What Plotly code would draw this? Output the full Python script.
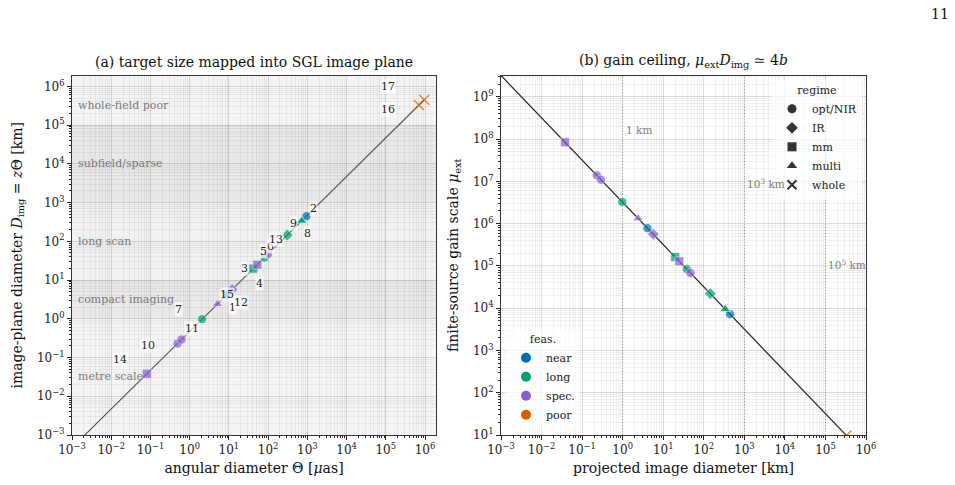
import numpy as np
import plotly.graph_objects as go

# ---------------- data ----------------
target_ids = [str(i) for i in range(1, 18)]
theta_uas = [5.1, 944, 42, 53, 81, 100, 2.08, 725, 715, 0.49, 0.62, 12.1, 308, 0.081, 8.7, 7.0e5, 9.6e5]
regime = ["multi", "opt/NIR", "mm", "mm", "opt/NIR", "opt/NIR", "opt/NIR", "multi", "multi",
          "opt/NIR", "opt/NIR", "IR", "IR", "mm", "opt/NIR", "whole", "whole"]
feas = ["spec.", "near", "long", "spec.", "long", "spec.", "long", "long", "long",
        "spec.", "spec.", "spec.", "long", "spec.", "near", "poor", "poor"]

km_per_uas = 0.47          # z * 1 uas  (z ~ 650 AU)
four_b_km = 3.2e6          # mu_ext * D_img = 4b

regime_names = ["opt/NIR", "IR", "mm", "multi", "whole"]
regime_symbols = ["circle", "diamond", "square", "triangle-up", "x-thin"]
feas_names = ["near", "long", "spec.", "poor"]
feas_colors = ["#0072B2", "#009E73", "#8A5CD2", "#D55E00"]

band_edges_km = [1e-3, 1.0, 10.0, 1e3, 1e5, 10 ** 6.28]
band_names = ["metre scale", "compact imaging", "long scan", "subfield/sparse", "whole-field poor"]
band_label_logy = [-1.5, 0.5, 2.0, 4.0, 5.5]
band_fills = ["#f4f4f4", "#e9e9e9", "#f1f1f1", "#e8e8e8", "#f4f4f4"]

ref_lines_km = [1.0, 1e3, 1e5]
ref_labels = ["1 km", "10<sup>3</sup> km", "10<sup>5</sup> km"]
ref_label_mu = [1.6e8, 9e6, 1.1e5]

# label pixel offsets (dx right, dy up) for left panel
label_dx = [15, 7, -9, 2, -1, 2, -24, 6, -8, -30, 10, 9, -11, -27, 0, -31, -36]
label_dy = [-3, 8, 0, -19, 6, 8, 10, -13, -3, -2, 11, -13, -4, 14, 1, -4, 13]

# ---------------- derived ----------------
theta = np.array(theta_uas)
D_img = theta * km_per_uas
mu_ext = four_b_km / D_img
sym_map = dict(zip(regime_names, regime_symbols))
col_map = dict(zip(feas_names, feas_colors))
symbols = [sym_map[r] for r in regime]
colors = [col_map[f] for f in feas]
is_x = [s == "x-thin" for s in symbols]
line_cols = [c if x else "white" for c, x in zip(colors, is_x)]
line_w = [1.5 if x else 0.6 for x in is_x]
sizes = [10 if x else 9 for x in is_x]

FONT = "DejaVu Serif"
fig = go.Figure()

# left: mapping line
th_line = np.logspace(-3, np.log10(theta.max()), 200)
fig.add_trace(go.Scatter(x=th_line, y=th_line * km_per_uas, mode="lines",
                         line=dict(color="#555555", width=1.1), showlegend=False,
                         hoverinfo="skip", xaxis="x", yaxis="y"))
fig.add_trace(go.Scatter(x=theta, y=D_img, mode="markers", showlegend=False,
                         marker=dict(symbol=symbols, color=colors, size=sizes,
                                     line=dict(color=line_cols, width=line_w)),
                         xaxis="x", yaxis="y"))

# right: gain ceiling line
D_line = np.logspace(-3, 6, 200)
fig.add_trace(go.Scatter(x=D_line, y=four_b_km / D_line, mode="lines",
                         line=dict(color="#222222", width=1.2), showlegend=False,
                         hoverinfo="skip", xaxis="x2", yaxis="y2"))
fig.add_trace(go.Scatter(x=D_img, y=mu_ext, mode="markers", showlegend=False,
                         marker=dict(symbol=symbols, color=colors, size=sizes,
                                     line=dict(color=line_cols, width=line_w)),
                         xaxis="x2", yaxis="y2"))

# legend entries
for name, sym in zip(regime_names, regime_symbols):
    xs = sym == "x-thin"
    fig.add_trace(go.Scatter(x=[None], y=[None], mode="markers", name=name, legend="legend",
                             marker=dict(symbol=sym, size=9, color="#333333",
                                         line=dict(color="#333333", width=2 if xs else 0)),
                             xaxis="x2", yaxis="y2"))
for name, col in zip(feas_names, feas_colors):
    fig.add_trace(go.Scatter(x=[None], y=[None], mode="markers", name=name, legend="legend2",
                             marker=dict(symbol="circle", size=10, color=col),
                             xaxis="x2", yaxis="y2"))

shapes = []
annotations = []
for i, name in enumerate(band_names):
    shapes.append(dict(type="rect", xref="x domain", yref="y", x0=0, x1=1,
                       y0=band_edges_km[i], y1=band_edges_km[i + 1],
                       fillcolor=band_fills[i], line=dict(width=0), layer="below"))
    annotations.append(dict(xref="x domain", yref="y", x=0.012, y=band_label_logy[i],
                            text=name, showarrow=False, xanchor="left", yanchor="middle",
                            font=dict(family=FONT, size=11, color="#7a7a7a")))
for v, lab, ym in zip(ref_lines_km, ref_labels, ref_label_mu):
    shapes.append(dict(type="line", xref="x2", yref="y2 domain", x0=v, x1=v,
                       y0=0, y1=1, line=dict(color="#a8a8a8", width=0.9, dash="1px,2px"),
                       layer="below"))
    annotations.append(dict(xref="x2", yref="y2", x=np.log10(v), y=np.log10(ym), text=lab,
                            showarrow=False, xanchor="left", yanchor="middle", xshift=1,
                            font=dict(family=FONT, size=10.5, color="#808080")))

for i, tid in enumerate(target_ids):
    annotations.append(dict(xref="x", yref="y", x=np.log10(theta[i]), y=np.log10(D_img[i]),
                            text=tid, showarrow=False, xshift=label_dx[i], yshift=label_dy[i],
                            bgcolor="rgba(255,255,255,0.7)", borderpad=0,
                            font=dict(family=FONT, size=11, color="#222222")))

annotations += [
    dict(xref="paper", yref="paper", x=254 / 955, y=1 - 62 / 485, showarrow=False,
         xanchor="center", yanchor="middle",
         text="(a) target size mapped into SGL image plane",
         font=dict(family=FONT, size=14, color="#111")),
    dict(xref="paper", yref="paper", x=683 / 955, y=1 - 61 / 485, showarrow=False,
         xanchor="center", yanchor="middle",
         text="(b) gain ceiling, <i>μ</i><sub>ext</sub><i>D</i><sub>img</sub> ≃ 4<i>b</i>",
         font=dict(family=FONT, size=14, color="#111")),
    dict(xref="paper", yref="paper", x=940 / 955, y=1 - 14 / 485, showarrow=False,
         xanchor="center", yanchor="middle",
         text="11", font=dict(family=FONT, size=14, color="#111")),
]

def pow_lab(n):
    return "10<sup>" + ("−" if n < 0 else "") + str(abs(n)) + "</sup>"

minor_vals = [m * 10.0 ** n for n in range(-4, 11) for m in range(2, 10)]

def axis(rng, dom, lo, hi, title, anchor, standoff):
    vals = list(range(lo, hi + 1))
    return dict(type="log", range=rng, domain=dom, anchor=anchor, automargin=False,
                tickmode="array", tickvals=[10.0 ** v for v in vals],
                ticktext=[pow_lab(v) for v in vals],
                ticks="outside", ticklen=4, tickwidth=1, tickcolor="#222",
                showline=True, linecolor="#333", linewidth=1, mirror=True,
                showgrid=True, gridcolor="rgba(0,0,0,0.13)", gridwidth=1,
                minor=dict(tickmode="array", tickvals=minor_vals, ticks="outside", ticklen=2,
                           tickcolor="#222", showgrid=True, gridcolor="rgba(0,0,0,0.05)"),
                zeroline=False,
                tickfont=dict(family=FONT, size=12, color="#222"),
                title=dict(text=title, font=dict(family=FONT, size=14, color="#111"),
                           standoff=standoff))

LX = [72 / 955, 436 / 955]
RX = [501 / 955, 866 / 955]
YD = [1 - 435 / 485, 1 - 75.5 / 485]

fig.update_layout(
    width=955, height=485, margin=dict(l=0, r=0, t=0, b=0, autoexpand=False),
    paper_bgcolor="white", plot_bgcolor="white",
    xaxis=axis([-3, 6.28], LX, -3, 6, "angular diameter Θ [<i>μ</i>as]", "y", 6),
    yaxis=axis([-3, 6.28], YD, -3, 6,
               "image-plane diameter <i>D</i><sub>img</sub> = <i>z</i>Θ [km]", "x", 11),
    xaxis2=axis([-3, 6], RX, -3, 6, "projected image diameter [km]", "y2", 6),
    yaxis2=axis([1, np.log10(four_b_km / 1e-3)], YD, 1, 9,
                "finite-source gain scale <i>μ</i><sub>ext</sub>", "x2", 11),
    shapes=shapes, annotations=annotations,
    legend=dict(title=dict(text="regime", side="top center", font=dict(family=FONT, size=11)),
                x=862 / 955, xanchor="right", y=1 - 80 / 485, yanchor="top",
                bgcolor="rgba(255,255,255,0.7)", font=dict(family=FONT, size=11, color="#222"),
                itemwidth=30, tracegroupgap=0),
    legend2=dict(title=dict(text="feas.", side="top center", font=dict(family=FONT, size=11)),
                 x=506 / 955, xanchor="left", y=1 - 430 / 485, yanchor="bottom",
                 bgcolor="rgba(255,255,255,0.7)", font=dict(family=FONT, size=11, color="#222"),
                 itemwidth=30, tracegroupgap=0),
    font=dict(family=FONT),
)

fig.write_html("out.html")
